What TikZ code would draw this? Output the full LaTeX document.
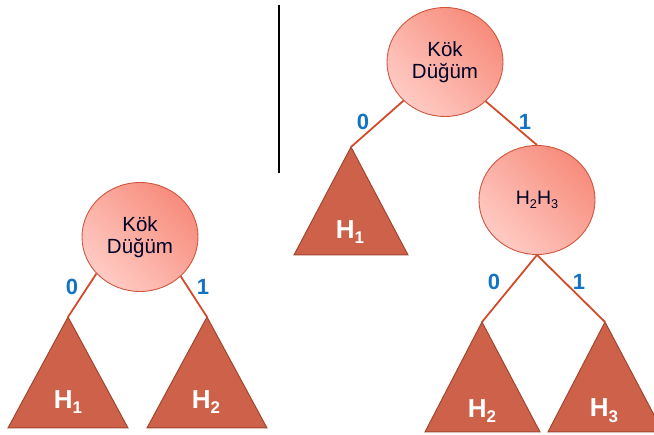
\documentclass[tikz,border=0pt]{standalone}
\usepackage{fontspec}
\usepackage{graphicx}
\setmainfont{Liberation Sans}
\usetikzlibrary{shapes.geometric}

\definecolor{nodeLight}{HTML}{FFCBC4}
\definecolor{nodeDark}{HTML}{F78C7C}
\definecolor{nodeEdge}{HTML}{D0553E}
\definecolor{treeFill}{HTML}{CD614A}
\definecolor{treeEdge}{HTML}{A3452F}
\definecolor{branch}{HTML}{D24B2B}
\definecolor{bitBlue}{HTML}{1272C4}

% lowered, shrunken subscript that follows the current font
\newcommand\lsub[1]{\raisebox{-0.22em}{\scalebox{0.65}{#1}}}

\tikzset{
  treenode/.style={ellipse, draw=nodeEdge, line width=0.9pt,
    top color=nodeDark, bottom color=nodeLight, shading angle=-45,
    minimum width=116pt, minimum height=109pt, inner sep=0pt,
    align=center, text=black!85!blue,
    font=\fontsize{20.5}{22}\selectfont},
  branchline/.style={draw=branch, line width=1.8pt},
  subtree/.style={fill=treeFill, draw=treeEdge, line width=1pt, line join=miter},
  treelabel/.style={text=white, font=\fontsize{26}{26}\selectfont\bfseries, inner sep=0pt},
  bitlabel/.style={text=bitBlue, font=\fontsize{22}{22}\selectfont\bfseries, inner sep=0pt},
  divider/.style={draw=black, line width=1.3pt}
}

\begin{document}
\begin{tikzpicture}[x=1pt, y=-1pt]
  \useasboundingbox (0,0) rectangle (654,435);
  \clip (0,0) rectangle (654,435);

  % separator between the two trees
  \coordinate (sepTop) at (279,5);
  \coordinate (sepBot) at (279,173);
  \draw[divider] (sepTop) -- (sepBot);

  % ---------- tree with two subtrees ----------
  \node[treenode] (rootA) at (140,237) {Kök\\Düğüm};
  \coordinate (apexA1) at (68,317);
  \coordinate (apexA2) at (207,317);
  \draw[subtree] (apexA1) -- (8,428) -- (128,428) -- cycle;
  \draw[subtree] (apexA2) -- (147,428) -- (267,428) -- cycle;
  \draw[branchline] (rootA.220) -- (apexA1);
  \draw[branchline] (rootA.316) -- (apexA2);
  \node[bitlabel] (bitA0) at (72,287) {0};
  \node[bitlabel] (bitA1) at (203,287) {1};
  \node[treelabel] (subA1) at (68,402) {H\lsub{1}};
  \node[treelabel] (subA2) at (206,402) {H\lsub{2}};

  % ---------- tree with three subtrees ----------
  \node[treenode] (rootB) at (445,62) {Kök\\Düğüm};
  \node[treenode, font=\fontsize{19.5}{19.5}\selectfont] (mid) at (537,200) {H\lsub{2}H\lsub{3}};
  \coordinate (apexB1) at (351,147);
  \coordinate (apexB2) at (482,322);
  \coordinate (apexB3) at (605,322);
  \draw[subtree] (apexB1) -- (294,255) -- (408,255) -- cycle;
  \draw[subtree] (apexB2) -- (425,432) -- (540,432) -- cycle;
  \draw[subtree] (apexB3) -- (548,432) -- (663,432) -- cycle;
  \draw[branchline] (rootB.223) -- (apexB1);
  \draw[branchline] (rootB.316) -- (mid.north);
  \draw[branchline] (mid.south) -- (apexB2);
  \draw[branchline] (mid.south) -- (apexB3);
  \node[bitlabel] (bitB0) at (363,122) {0};
  \node[bitlabel] (bitB1) at (525,122) {1};
  \node[bitlabel] (bitC0) at (494,282) {0};
  \node[bitlabel] (bitC1) at (579,282) {1};
  \node[treelabel] (subB1) at (350,232) {H\lsub{1}};
  \node[treelabel] (subB2) at (482,411) {H\lsub{2}};
  \node[treelabel] (subB3) at (604,411) {H\lsub{3}};
\end{tikzpicture}
\end{document}
